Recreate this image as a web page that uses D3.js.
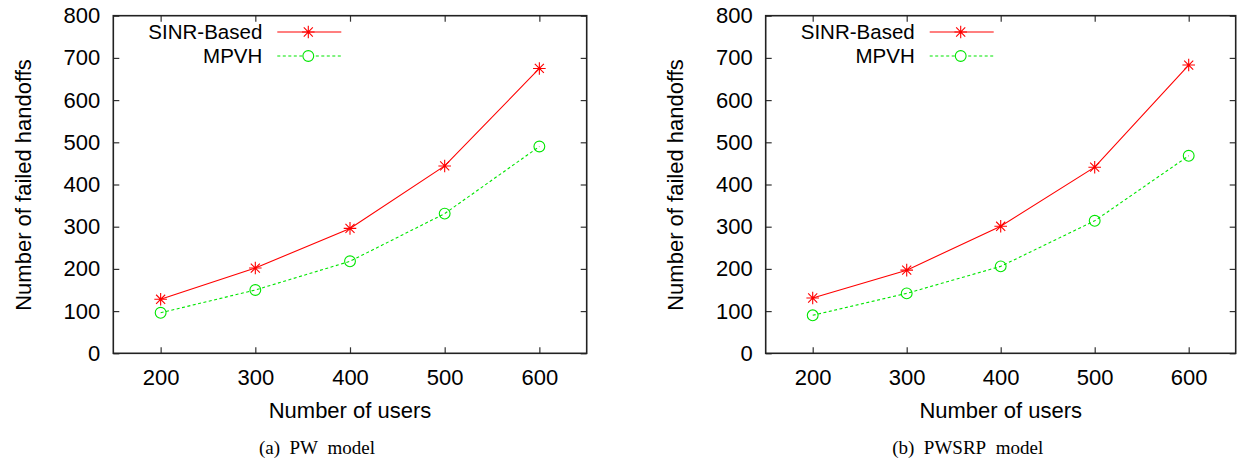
<!DOCTYPE html>
<html>
<head>
<meta charset="utf-8">
<script src="https://cdn.jsdelivr.net/npm/d3@7"></script>
<style>
  body { margin: 0; background: #fff; }
  svg text { font-family: "Liberation Sans", Arial, Helvetica, sans-serif; fill: #000; }
  .caption { font-family: "Liberation Serif", "Times New Roman", serif; }
</style>
</head>
<body>
<div id="chart"></div>
<script>
// values
var users = [200, 300, 400, 500, 600];
var pwSinr = [128, 202, 296, 444, 675];
var pwMpvh = [96, 150, 218, 331, 490];
var pwsrpSinr = [131, 197, 301, 441, 683];
var pwsrpMpvh = [90, 142, 206, 314, 468];
var seriesNames = ["SINR-Based", "MPVH"];
var yTicks = [0, 100, 200, 300, 400, 500, 600, 700, 800];
var xTicks = [200, 300, 400, 500, 600];
var captions = ["(a)\u00a0\u00a0PW\u00a0\u00a0model", "(b)\u00a0\u00a0PWSRP\u00a0\u00a0model"];

var width = 1239, height = 461;
var red = "#ff0000", green = "#00e600";
var fontSize = "22px";

var svg = d3.select("#chart")
            .append("svg")
            .attr("width", width)
            .attr("height", height);

// asterisk marker (gnuplot point type 3)
function star(r) {
    var d = r * 0.72;
    return "M" + (-r) + ",0H" + r + "M0," + (-r) + "V" + r +
           "M" + (-d) + "," + (-d) + "L" + d + "," + d +
           "M" + (-d) + "," + d + "L" + d + "," + (-d);
}

function drawPanel(left, right, sinr, mpvh, caption) {
    var top = 15.7, bottom = 353.3;

    var x = d3.scaleLinear().domain([150, 650]).range([left, right]);
    var y = d3.scaleLinear().domain([0, 800]).range([bottom, top]);

    var g = svg.append("g");

    // axes, ticks pointing inwards
    g.append("g")
        .attr("transform", "translate(0," + bottom + ")")
        .call(d3.axisBottom(x).tickValues(xTicks).tickSize(-6).tickPadding(16));
    g.append("g")
        .attr("transform", "translate(" + left + ",0)")
        .call(d3.axisLeft(y).tickValues(yTicks).tickSize(-6).tickPadding(13));
    // mirrored ticks on top and right
    g.append("g")
        .attr("transform", "translate(0," + top + ")")
        .call(d3.axisTop(x).tickValues(xTicks).tickSize(-6).tickFormat(""));
    g.append("g")
        .attr("transform", "translate(" + right + ",0)")
        .call(d3.axisRight(y).tickValues(yTicks).tickSize(-6).tickFormat(""));

    g.selectAll(".domain").remove();
    g.selectAll(".tick line").attr("stroke", "#333").attr("stroke-width", 1.2);
    g.selectAll(".tick text").style("font-size", fontSize).attr("fill", "#000");

    g.append("rect")
        .attr("x", left).attr("y", top)
        .attr("width", right - left).attr("height", bottom - top)
        .attr("fill", "none")
        .attr("stroke", "#222")
        .attr("stroke-width", 1.6);

    // lines
    var line = d3.line()
        .x(function(d, i) { return x(users[i]); })
        .y(function(d) { return y(d); });

    g.append("path").datum(sinr)
        .attr("d", line)
        .attr("fill", "none")
        .attr("stroke", red)
        .attr("stroke-width", 1.1);

    g.append("path").datum(mpvh)
        .attr("d", line)
        .attr("fill", "none")
        .attr("stroke", green)
        .attr("stroke-width", 1.1)
        .attr("stroke-dasharray", "3,2.5");

    g.selectAll(".star")
        .data(sinr)
        .enter()
        .append("path")
        .attr("transform", function(d, i) { return "translate(" + x(users[i]) + "," + y(d) + ")"; })
        .attr("d", star(6.3))
        .attr("fill", "none")
        .attr("stroke", red)
        .attr("stroke-width", 1.1);

    g.selectAll(".circ")
        .data(mpvh)
        .enter()
        .append("circle")
        .attr("cx", function(d, i) { return x(users[i]); })
        .attr("cy", function(d) { return y(d); })
        .attr("r", 5.4)
        .attr("fill", "none")
        .attr("stroke", green)
        .attr("stroke-width", 1.1);

    // legend
    var legX = left + 149;
    var rows = [32, 56];
    seriesNames.forEach(function(name, i) {
        g.append("text")
            .attr("x", legX)
            .attr("y", rows[i])
            .attr("dy", "0.36em")
            .attr("text-anchor", "end")
            .style("font-size", "20.5px")
            .text(name);
        g.append("line")
            .attr("x1", legX + 15).attr("x2", legX + 79)
            .attr("y1", rows[i]).attr("y2", rows[i])
            .attr("stroke", i === 0 ? red : green)
            .attr("stroke-width", 1.1)
            .attr("stroke-dasharray", i === 0 ? null : "3,2.5");
        if (i === 0) {
            g.append("path")
                .attr("transform", "translate(" + (legX + 46) + "," + rows[i] + ")")
                .attr("d", star(6.3))
                .attr("fill", "none")
                .attr("stroke", red)
                .attr("stroke-width", 1.1);
        } else {
            g.append("circle")
                .attr("cx", legX + 46).attr("cy", rows[i]).attr("r", 5.4)
                .attr("fill", "#fff")
                .attr("stroke", green)
                .attr("stroke-width", 1.1);
        }
    });

    // axis titles
    var mid = (left + right) / 2;
    g.append("text")
        .attr("x", mid)
        .attr("y", 418)
        .attr("text-anchor", "middle")
        .style("font-size", fontSize)
        .text("Number of users");

    g.append("text")
        .attr("transform", "translate(" + (left - 90) + ",185) rotate(-90)")
        .attr("dy", "0.35em")
        .attr("text-anchor", "middle")
        .style("font-size", fontSize)
        .text("Number of failed handoffs");

    g.append("text")
        .attr("class", "caption")
        .attr("x", mid - 33)
        .attr("y", 454)
        .attr("text-anchor", "middle")
        .style("font-size", "19px")
        .text(caption);
}

drawPanel(113.3, 586.7, pwSinr, pwMpvh, captions[0]);
drawPanel(765.7, 1235.7, pwsrpSinr, pwsrpMpvh, captions[1]);
</script>
</body>
</html>
